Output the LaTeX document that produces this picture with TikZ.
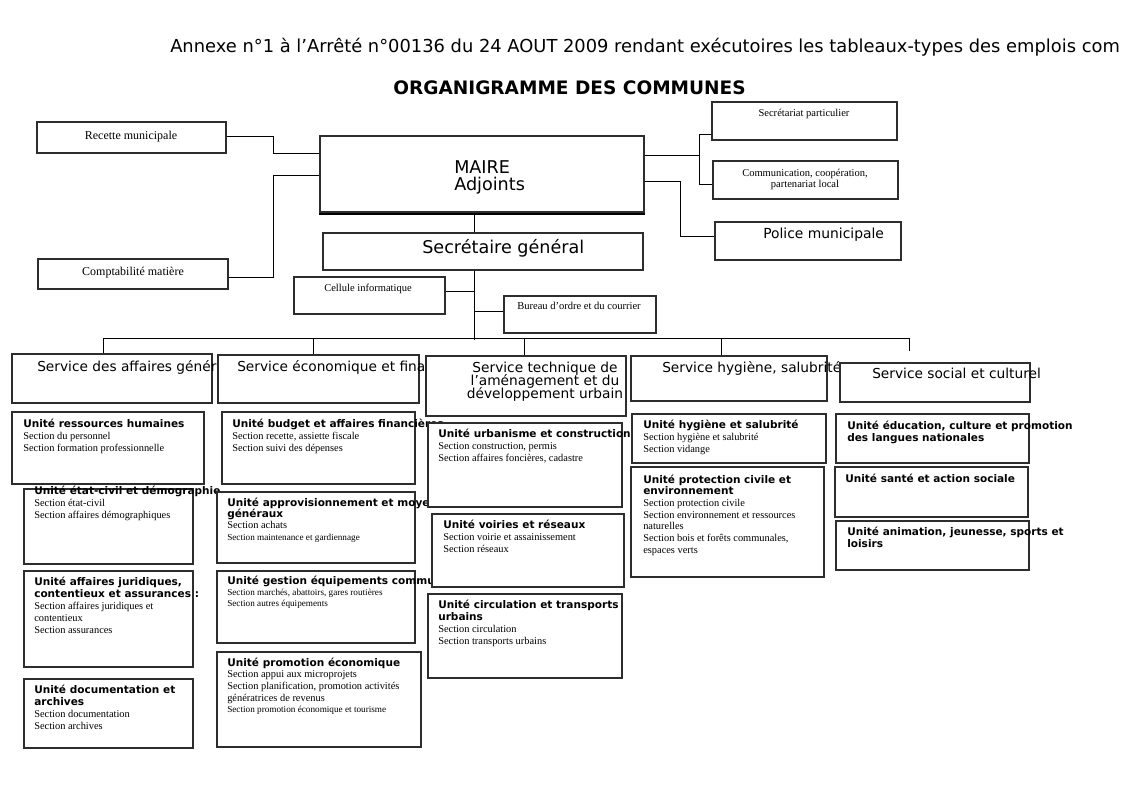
\documentclass[tikz,border=0pt]{standalone}
\usepackage{fontspec}
\setmainfont{Liberation Serif}
\newfontfamily\dvs{DejaVu Sans}
\usetikzlibrary{fit}

\definecolor{boxline}{RGB}{45,45,45}
\definecolor{shade}{RGB}{30,55,65}

\tikzstyle{orgbox} = [draw=boxline, line width=0.9pt, fill=white, rectangle, inner sep=0pt]
\tikzstyle{link} = [draw=black, line width=0.75pt]
\tikzstyle{lbl} = [inner sep=0pt, anchor=base west]
\tikzstyle{clbl} = [inner sep=0pt, anchor=base]

\newcommand{\titlef}{\dvs\fontsize{13.4}{15}\selectfont}
\newcommand{\headf}{\dvs\bfseries\fontsize{13.9}{16}\selectfont}
\newcommand{\bigf}{\dvs\fontsize{13.2}{14}\selectfont}
\newcommand{\servf}{\dvs\fontsize{10.3}{11}\selectfont}
\newcommand{\unitf}{\dvs\bfseries\fontsize{7.9}{9.1}\selectfont}
\newcommand{\secf}{\rmfamily\mdseries\fontsize{7.8}{9.1}\selectfont}
\newcommand{\smallsecf}{\rmfamily\mdseries\fontsize{6.9}{9.1}\selectfont}
\newcommand{\notef}{\rmfamily\fontsize{7.9}{8.25}\selectfont}
\newcommand{\sidef}{\rmfamily\fontsize{9}{10}\selectfont}
\newcommand{\boxat}[3]{\node[orgbox, fit={(#2) (#3)}] (#1) {};}
% lignes de texte, pas fixe
\newcommand{\rowsl}[2]{\vtop{\baselineskip=#1\lineskiplimit=-20pt\lineskip=0pt\halign{##\hfil\cr#2\crcr}}}
\newcommand{\rowsc}[2]{\vtop{\baselineskip=#1\lineskiplimit=-20pt\lineskip=0pt\halign{\hfil##\hfil\cr#2\crcr}}}

\begin{document}
\begin{tikzpicture}[x=0.75pt,y=-0.75pt]
\useasboundingbox[fill=white] (0,0) rectangle (1121,793);

\node[lbl] (annexe) at (170,52) {\titlef Annexe n°1 à l’Arrêté n°00136 du 24 AOUT 2009 rendant exécutoires les tableaux-types des emplois com};
\node[lbl] (title) at (393,94) {\headf ORGANIGRAMME DES COMMUNES};

% direction
\boxat{rec}{37,122}{226,153}
\node[clbl] (rect) at (131,139) {\sidef Recette municipale};
\boxat{compta}{38,259}{228,289}
\node[clbl] (comptat) at (133,275) {\sidef Comptabilité matière};
\boxat{maire}{320,136}{644,212}
\draw[shade, line width=2pt] ([yshift=-1pt]maire.south west) -- ([yshift=-1pt]maire.south east);
\node[lbl] (mairet) at (454,173) {\rowsl{12.75pt}{\bigf MAIRE\cr\bigf Adjoints}};
\boxat{sg}{323,233}{643,270}
\node[lbl] (sgt) at (422,253) {\bigf Secrétaire général};
\boxat{sp}{712,102}{897,140}
\node[clbl] (spt) at (804,116) {\notef Secrétariat particulier};
\boxat{comm}{713,161}{898,199}
\node[clbl] (commt) at (805,176) {\rowsc{8.25pt}{\notef Communication, coopération,\cr\notef partenariat local}};
\boxat{police}{715,222}{901,260}
\node[lbl] (policet) at (763,238) {\dvs\fontsize{10.4}{11}\selectfont Police municipale};
\boxat{cell}{294,277}{445,314}
\node[lbl] (cellt) at (324,291) {\notef Cellule informatique};
\boxat{bureau}{504,296}{656,333}
\node[lbl] (bureaut) at (517,309) {\notef Bureau d’ordre et du courrier};

% services
\boxat{s1}{12,354}{212,403}
\node[lbl] (s1t) at (37,371) {\servf Service des affaires générales};
\boxat{s2}{218,355}{419,403}
\node[lbl] (s2t) at (237,371) {\servf Service économique et financier};
\boxat{s3}{426,356}{626,416}
\node[clbl] (s3t) at (545,372) {\rowsc{10.1pt}{\servf Service technique de\cr\servf l’aménagement et du\cr\servf développement urbain}};
\boxat{s4}{631,356}{827,401}
\node[lbl] (s4t) at (662,372) {\servf Service hygiène, salubrité};
\boxat{s5}{840,363}{1030,402}
\node[lbl] (s5t) at (872,378) {\servf Service social et culturel};

% unites
\boxat{u11}{12,412}{204,484}
\node[lbl] (u11t) at (23,427) {\rowsl{9.1pt}{\unitf Unité ressources humaines\cr\secf Section du personnel\cr\secf Section formation professionnelle}};
\boxat{u12}{24,489}{193,564}
\node[lbl] (u12t) at (34,494) {\rowsl{9.1pt}{\unitf Unité état-civil et démographie\cr\secf Section état-civil\cr\secf Section affaires démographiques}};
\boxat{u13}{24,571}{193,667}
\node[lbl] (u13t) at (34,585) {\rowsl{9.1pt}{\unitf Unité affaires juridiques,\cr\unitf contentieux et assurances :\cr\secf Section affaires juridiques et\cr\secf contentieux\cr\secf Section assurances}};
\boxat{u14}{24,679}{193,748}
\node[lbl] (u14t) at (34,693) {\rowsl{9.1pt}{\unitf Unité documentation et\cr\unitf archives\cr\secf Section documentation\cr\secf Section archives}};

\boxat{u21}{222,412}{415,484}
\node[lbl] (u21t) at (232,427) {\rowsl{9.1pt}{\unitf Unité budget et affaires financières\cr\secf Section recette, assiette fiscale\cr\secf Section suivi des dépenses}};
\boxat{u22}{217,492}{415,563}
\node[lbl] (u22t) at (227,506) {\rowsl{8.6pt}{\unitf Unité approvisionnement et moyens\cr\unitf généraux\cr\secf Section achats\cr\smallsecf Section maintenance et gardiennage}};
\boxat{u23}{217,571}{415,643}
\node[lbl] (u23t) at (227,584) {\rowsl{8.4pt}{\unitf Unité gestion équipements communaux\cr\smallsecf Section marchés, abattoirs, gares routières\cr\smallsecf Section autres équipements}};
\boxat{u24}{217,652}{421,747}
\node[lbl] (u24t) at (227,666) {\rowsl{8.8pt}{\unitf Unité promotion économique\cr\secf Section appui aux microprojets\cr\secf Section planification, promotion activités\cr\secf génératrices de revenus\cr\smallsecf Section promotion économique et tourisme}};

\boxat{u31}{428,423}{622,507}
\node[lbl] (u31t) at (438,437) {\rowsl{9.3pt}{\unitf Unité urbanisme et construction\cr\secf Section construction, permis\cr\secf Section affaires foncières, cadastre}};
\boxat{u32}{432,514}{624,587}
\node[lbl] (u32t) at (443,528) {\rowsl{9pt}{\unitf Unité voiries et réseaux\cr\secf Section voirie et assainissement\cr\secf Section réseaux}};
\boxat{u33}{428,594}{622,678}
\node[lbl] (u33t) at (438,608) {\rowsl{9.2pt}{\unitf Unité circulation et transports\cr\unitf urbains\cr\secf Section circulation\cr\secf Section transports urbains}};

\boxat{u41}{632,414}{826,463}
\node[lbl] (u41t) at (643,428) {\rowsl{9pt}{\unitf Unité hygiène et salubrité\cr\secf Section hygiène et salubrité\cr\secf Section vidange}};
\boxat{u42}{631,467}{824,577}
\node[lbl] (u42t) at (643,483) {\rowsl{8.75pt}{\unitf Unité protection civile et\cr\unitf environnement\cr\secf Section protection civile\cr\secf Section environnement et ressources\cr\secf naturelles\cr\secf Section bois et forêts communales,\cr\secf espaces verts}};

\boxat{u51}{836,414}{1029,463}
\node[lbl] (u51t) at (847,429) {\rowsl{9pt}{\unitf Unité éducation, culture et promotion\cr\unitf des langues nationales}};
\boxat{u52}{835,467}{1028,517}
\node[lbl] (u52t) at (845,482) {\unitf Unité santé et action sociale};
\boxat{u53}{836,521}{1029,570}
\node[lbl] (u53t) at (847,535) {\rowsl{9pt}{\unitf Unité animation, jeunesse, sports et\cr\unitf loisirs}};

% liaisons
\coordinate (hub) at (474.5,340);
\coordinate (busL) at (103,338);
\coordinate (busR) at (909,338);
\coordinate (stub) at (909,351);
\draw[link] (rec.east |- 0,136) -| (273,153) -- (maire.west |- 0,153);
\draw[link] (compta.east |- 0,277) -| (273,175) -- (maire.west |- 0,175);
\draw[link] (maire.south -| hub) -- (sg.north -| hub);
\draw[link] (sg.south -| hub) -- (hub);
\draw[link] (cell.east |- 0,291) -- (hub |- 0,291);
\draw[link] (bureau.west |- 0,311) -- (hub |- 0,311);
\draw[link] (busL) -- (busR);
\foreach \s/\x in {s1/103,s2/313,s3/524,s4/721}
  \draw[link] (\s.north -| \x,0) -- (busL -| \x,0);
\draw[link] (busR) -- (stub);
\draw[link] (maire.east |- 0,155) -- (699,155);
\draw[link] (sp.west |- 0,134) -| (699,184) -- (comm.west |- 0,184);
\draw[link] (maire.east |- 0,181) -| (680,236) -- (police.west |- 0,236);
\end{tikzpicture}
\end{document}
